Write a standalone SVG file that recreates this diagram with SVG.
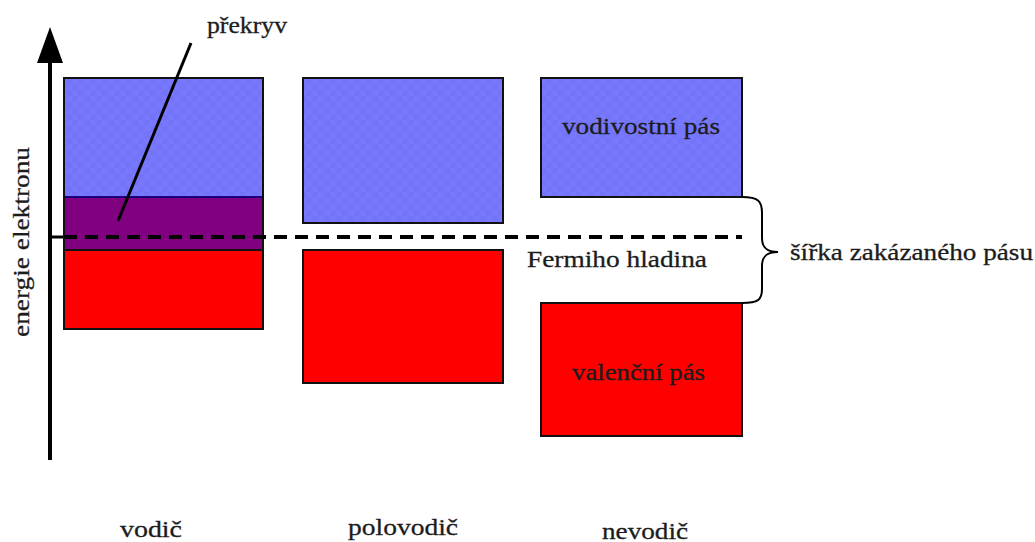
<svg xmlns="http://www.w3.org/2000/svg" width="1035" height="542" viewBox="0 0 1035 542">
<style>
text{font-family:"Liberation Serif","Times New Roman",serif;font-size:24px;fill:#1c1c1c;stroke:#1c1c1c;stroke-width:0.3}
.box{stroke:#111;stroke-width:2}
.cond{fill:url(#chk)}
.val{fill:#ff0000}
.ovl{fill:#800080}
.ln{stroke:#000;fill:none}
</style>
<defs>
<pattern id="chk" width="12" height="12" patternUnits="userSpaceOnUse">
<rect width="12" height="12" fill="#7878ff"/>
<rect width="6" height="6" fill="#7474f6"/>
<rect x="6" y="6" width="6" height="6" fill="#7474f6"/>
</pattern>
</defs>
<rect width="1035" height="542" fill="#fff"/>
<g id="axis">
<line class="ln" x1="50" y1="460" x2="50" y2="58" stroke-width="4"/>
<polygon points="50,27 37,63 63,63" fill="#000"/>
<line class="ln" x1="50" y1="237" x2="64" y2="237" stroke-width="3"/>
<text transform="translate(29,337) rotate(-90)" textLength="190" lengthAdjust="spacingAndGlyphs">energie elektronu</text>
</g>
<g id="vodic">
<rect class="cond" x="64" y="78" width="199" height="119"/>
<rect class="ovl" x="64" y="197" width="199" height="53"/>
<line x1="64" y1="197" x2="263" y2="197" stroke="#1a0080" stroke-width="2"/>
<rect class="val" x="64" y="250" width="199" height="79"/>
<line x1="64" y1="250" x2="263" y2="250" stroke="#111" stroke-width="2"/>
<rect x="64" y="78" width="199" height="251" fill="none" class="box"/>
<text x="120" y="537" textLength="62" lengthAdjust="spacingAndGlyphs">vodič</text>
</g>
<g id="polovodic">
<rect class="cond box" x="303" y="78" width="200" height="145"/>
<rect class="val box" x="303" y="250" width="200" height="133"/>
<text x="348" y="535" textLength="110" lengthAdjust="spacingAndGlyphs">polovodič</text>
</g>
<g id="nevodic">
<rect class="cond box" x="541" y="78" width="201" height="119"/>
<rect class="val box" x="541" y="303" width="201" height="133"/>
<text x="562" y="134" textLength="158" lengthAdjust="spacingAndGlyphs">vodivostní pás</text>
<text x="572" y="380" textLength="133" lengthAdjust="spacingAndGlyphs">valenční pás</text>
<text x="602" y="539" textLength="86" lengthAdjust="spacingAndGlyphs">nevodič</text>
</g>
<g id="connectors">
<line class="ln" x1="64" y1="237" x2="742" y2="237" stroke-width="4" stroke-dasharray="13,8"/>
<line class="ln" x1="118" y1="221" x2="191" y2="43" stroke-width="3"/>
<path class="ln" stroke-width="2" d="M742,197 C758,197 762,201 762,213 L762,238 C762,248 767,252 778,252 C767,252 762,256 762,266 L762,289 C762,300 758,303 742,303"/>
</g>
<g id="labels">
<text x="207" y="33" textLength="80" lengthAdjust="spacingAndGlyphs">překryv</text>
<text x="527" y="267" textLength="180" lengthAdjust="spacingAndGlyphs">Fermiho hladina</text>
<text x="790" y="260" textLength="243" lengthAdjust="spacingAndGlyphs">šířka zakázaného pásu</text>
</g>
</svg>
